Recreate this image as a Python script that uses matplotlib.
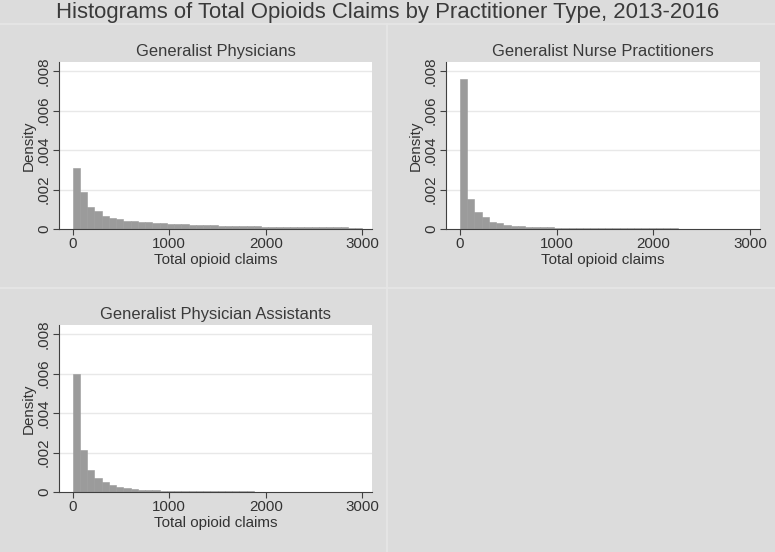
import numpy as np
import matplotlib
matplotlib.use('Agg')
import matplotlib.pyplot as plt
from matplotlib.lines import Line2D

plt.rcParams['font.family'] = ['Liberation Sans', 'DejaVu Sans']

# histogram bins: 40 bins of width 75 over 0-3000
bin_width = 75
bin_left = np.arange(0, 3000, bin_width)

titles = ['Generalist Physicians', 'Generalist Nurse Practitioners',
          'Generalist Physician Assistants']

dens_physicians = [0.00310, 0.00188, 0.00114, 0.00089, 0.00067, 0.00056, 0.00049, 0.00043,
                   0.00040, 0.00036, 0.00033, 0.00030, 0.00028, 0.00026, 0.00024, 0.00023,
                   0.00021, 0.00020, 0.00019, 0.00018, 0.00017, 0.00016, 0.00015, 0.00014,
                   0.00014, 0.00013, 0.00012, 0.00012, 0.00011, 0.00011, 0.00010, 0.00010,
                   0.00009, 0.00009, 0.00009, 0.00008, 0.00008, 0.00008, 0.00007, 0.00007]
dens_nurses = [0.00762, 0.00150, 0.00087, 0.00060, 0.00037, 0.00028, 0.00022, 0.00017,
               0.00014, 0.00012, 0.00010, 0.00009, 0.00008, 0.00007, 0.00007, 0.00006,
               0.00006, 0.00005, 0.00005, 0.00005, 0.00004, 0.00004, 0.00004, 0.00004,
               0.00003, 0.00003, 0.00003, 0.00003, 0.00003, 0.00003, 0.00002, 0.00002,
               0.00002, 0.00002, 0.00002, 0.00002, 0.00002, 0.00002, 0.00002, 0.00002]
dens_assistants = [0.00600, 0.00215, 0.00113, 0.00071, 0.00051, 0.00035, 0.00027, 0.00020,
                   0.00015, 0.00012, 0.00010, 0.00009, 0.00007, 0.00006, 0.00005, 0.00005,
                   0.00004, 0.00004, 0.00004, 0.00003, 0.00003, 0.00003, 0.00003, 0.00003,
                   0.00003, 0.00002, 0.00002, 0.00002, 0.00002, 0.00002, 0.00002, 0.00002,
                   0.00002, 0.00002, 0.00002, 0.00002, 0.00001, 0.00001, 0.00001, 0.00001]

x_ticks = [0, 1000, 2000, 3000]
y_ticks = [0, 0.002, 0.004, 0.006, 0.008]
y_ticklabels = ['0', '.002', '.004', '.006', '.008']

W, H = 775, 552
bg = '#dcdcdc'
txt = '#333333'
fig = plt.figure(figsize=(W / 100, H / 100), dpi=100, facecolor=bg)

# panel separator lines (combined-graph look)
for (x0, y0, x1, y1) in [(0, 24, W, 24), (387, 24, 387, H), (0, 288, W, 288)]:
    fig.add_artist(Line2D([x0 / W, x1 / W], [1 - y0 / H, 1 - y1 / H],
                          color='#e6e6e6', lw=1.2, transform=fig.transFigure))

fig.text(0.5, 1 - 12.5 / H, 'Histograms of Total Opioids Claims by Practitioner Type, 2013-2016',
         ha='center', va='center', fontsize=15.9, color='#3a3a3a')

# plot areas in pixels: left, top, right, bottom
boxes = [(59.3, 62, 371.7, 229), (446.3, 62, 759.5, 229), (59.3, 325, 371.7, 492)]
data = [dens_physicians, dens_nurses, dens_assistants]

for (l, t, r, b), dens, title in zip(boxes, data, titles):
    ax = fig.add_axes([l / W, 1 - b / H, (r - l) / W, (b - t) / H])
    ax.set_facecolor('white')
    ax.bar(bin_left, dens, width=bin_width, align='edge', color='#9b9b9b',
           edgecolor='#9b9b9b', linewidth=0.4, zorder=2)
    ax.set_xlim(-139, 3096)
    ax.set_ylim(0, 0.00847)
    for yv in y_ticks[1:]:
        ax.axhline(yv, color='#e8e8e8', lw=1.0, zorder=1)
    ax.set_xticks(x_ticks)
    ax.set_yticks(y_ticks)
    ax.set_yticklabels(y_ticklabels, rotation=90, va='center')
    ax.tick_params(axis='both', direction='out', length=4, width=0.8, colors='#404040',
                   labelcolor=txt, labelsize=10.9, pad=2)
    for s in ['top', 'right']:
        ax.spines[s].set_visible(False)
    for s in ['left', 'bottom']:
        ax.spines[s].set_color('#404040')
        ax.spines[s].set_linewidth(0.8)
    ax.set_xlabel('Total opioid claims', fontsize=10.9, color=txt, labelpad=1.5)
    ax.set_ylabel('Density', fontsize=10.9, color=txt, labelpad=1)
    ax.set_title(title, fontsize=11.9, color='#3a3a3a', pad=4)

fig.savefig('out.png', dpi=100, facecolor=bg)
